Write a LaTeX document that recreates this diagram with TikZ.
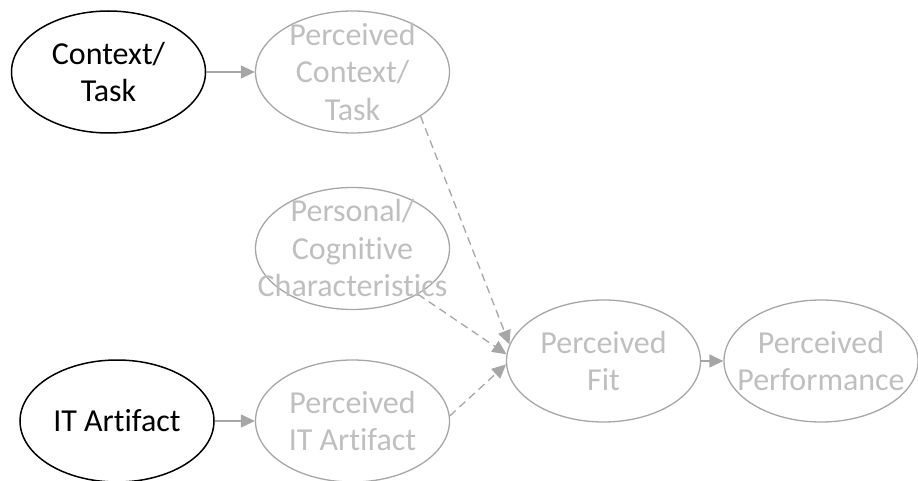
\documentclass[tikz,border=0pt]{standalone}
\usepackage{fontspec}
\setmainfont{Carlito}[RawFeature={-liga}]
\usetikzlibrary{shapes.geometric,arrows.meta}
\definecolor{lineGray}{HTML}{A6A6A6}
\definecolor{textGray}{HTML}{BFBFBF}
\begin{document}
\begin{tikzpicture}[x=1pt,y=-1pt,
  oval/.style={ellipse, inner sep=0pt, minimum width=194pt, minimum height=122pt},
  given/.style={oval, draw=black, line width=1.5pt},
  perceived/.style={oval, draw=lineGray, line width=1.3pt},
  caption/.style={font=\fontsize{32}{37.5}\selectfont, align=center, inner sep=0pt},
  blackcap/.style={caption, text=black},
  graycap/.style={caption, text=textGray},
  link/.style={draw=lineGray, line width=1.3pt, -{Triangle[length=14pt,width=13pt]}},
  dlink/.style={link, dash pattern=on 8pt off 5pt}
]
\useasboundingbox (0,0) rectangle (918,481);

% observed inputs
\node[given] (ctx) at (108.5,72) [label={[blackcap]center:Context/\\Task}] {};
\node[given] (it)  at (117,421)  [label={[blackcap]center:IT Artifact}] {};

% perceived constructs
\node[perceived] (pctx) at (352.5,72)    [label={[graycap]center:Perceived\\Context/\\Task}] {};
\node[perceived] (pers) at (352.5,248.5) [label={[graycap]center:Personal/\\Cognitive\\Characteristics}] {};
\node[perceived] (pit)  at (352.5,421)   [label={[graycap]center:Perceived\\IT Artifact}] {};
\node[perceived] (fit)  at (603.5,361)   [label={[graycap]center:Perceived\\Fit}] {};
\node[perceived] (perf) at (821,361)     [label={[graycap]center:Perceived\\Performance}] {};

% connectors
\draw[link] (ctx) -- (pctx);
\draw[link] (it) -- (pit);
\draw[link] (fit) -- (perf);
\draw[dlink] (pctx.-33) -- (fit.170);
\draw[dlink] (pers.-35) -- (fit.176);
\draw[dlink] (pit.3) -- (fit.-178);
\end{tikzpicture}
\end{document}
